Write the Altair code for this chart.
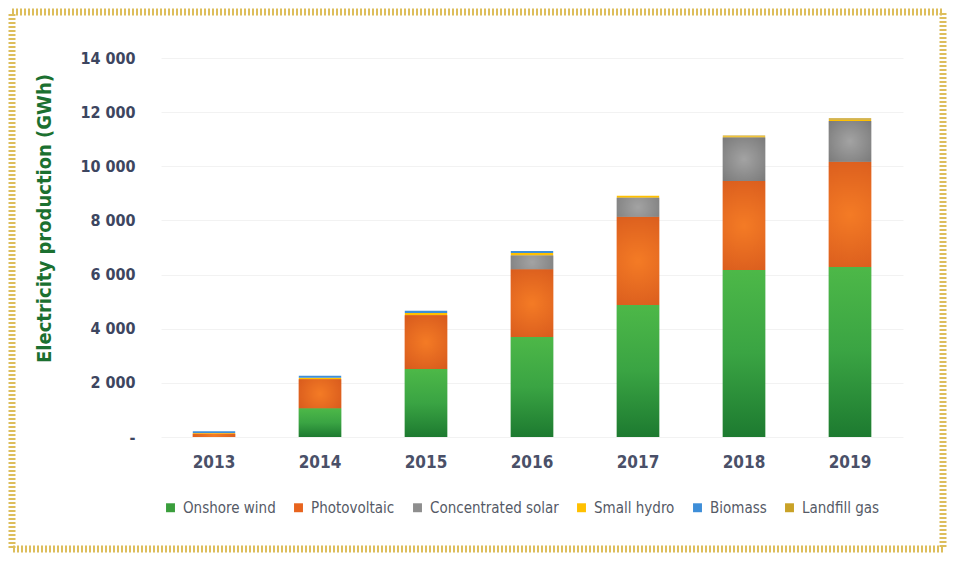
import altair as alt
import pandas as pd

years = ["2013", "2014", "2015", "2016", "2017", "2018", "2019"]
sources = ["Onshore wind", "Photovoltaic", "Concentrated solar", "Small hydro", "Biomass", "Landfill gas"]
onshore_wind = [0, 1060, 2510, 3690, 4880, 6170, 6280]
photovoltaic = [120, 1070, 1990, 2510, 3260, 3290, 3890]
concentrated_solar = [0, 0, 0, 505, 700, 1600, 1500]
small_hydro = [30, 60, 85, 95, 75, 45, 50]
biomass = [60, 70, 75, 75, 0, 0, 0]
landfill_gas = [0, 0, 0, 0, 0, 30, 50]
colors = ["#3A9E3C", "#E8641E", "#8E8E8E", "#FFC000", "#3E8ED8", "#C9A227"]

series = [onshore_wind, photovoltaic, concentrated_solar, small_hydro, biomass, landfill_gas]
rows = []
for i, y in enumerate(years):
    base = 0
    for s, vals in zip(sources, series):
        v = vals[i]
        rows.append({"year": y, "source": s, "order": sources.index(s), "value": v,
                     "start": base, "end": base + v})
        base += v
df = pd.DataFrame(rows)

FONT = "DejaVu Sans Condensed"

xenc = alt.X("year:N", sort=years, scale=alt.Scale(paddingInner=0.6, paddingOuter=0.3),
             axis=alt.Axis(title=None, labelAngle=0, labelFontSize=17, labelFontWeight="bold",
                           labelColor="#4A5068", labelFont=FONT, labelPadding=17,
                           ticks=False, domain=False, grid=False))
yscale = alt.Scale(domain=[0, 14000])
yenc = alt.Y("end:Q", scale=yscale,
             axis=alt.Axis(title="Electricity  production (GWh)", values=list(range(0, 14001, 2000)),
                           labelExpr="datum.value == 0 ? '-' : replace(format(datum.value, ','), ',', ' ')",
                           labelFontSize=16, labelFontWeight="bold", labelColor="#3D4660", labelFont=FONT,
                           labelPadding=26, ticks=False, domain=False, gridColor="#F2F2F2",
                           titleFont=FONT, titleFontSize=20, titleFontWeight="bold",
                           titleColor="#1B7030", titlePadding=25, titleY=160))

main = alt.Chart(df).mark_bar().encode(
    x=xenc,
    y=yenc,
    y2="start:Q",
    color=alt.Color("source:N", sort=sources,
                    scale=alt.Scale(domain=sources, range=colors),
                    legend=alt.Legend(title=None, orient="none", direction="horizontal",
                                      legendX=2, legendY=63 + 379, symbolType="square", symbolSize=80,
                                      symbolStrokeWidth=0, labelFont=FONT, labelFontSize=15,
                                      labelColor="#555A66", columnPadding=15, labelOffset=5)),
    order="order:Q",
)

wind_grad = alt.Chart(df).transform_filter(alt.datum.source == "Onshore wind").mark_bar(
    color=alt.LinearGradient(gradient="linear", x1=0, x2=0, y1=0, y2=1,
                             stops=[alt.GradientStop(color="#4DB848", offset=0),
                                    alt.GradientStop(color="#3AA443", offset=0.5),
                                    alt.GradientStop(color="#1D7A30", offset=1)])
).encode(x=alt.X("year:N", sort=years), y=alt.Y("end:Q"), y2="start:Q")

pv_grad = alt.Chart(df).transform_filter(alt.datum.source == "Photovoltaic").mark_bar(
    color=alt.RadialGradient(gradient="radial", x1=0.5, y1=0.5, x2=0.5, y2=0.5, r1=0, r2=0.7,
                             stops=[alt.GradientStop(color="#F47B25", offset=0),
                                    alt.GradientStop(color="#D4561C", offset=1)])
).encode(x=alt.X("year:N", sort=years), y=alt.Y("end:Q"), y2="start:Q")

csp_grad = alt.Chart(df).transform_filter(alt.datum.source == "Concentrated solar").mark_bar(
    color=alt.RadialGradient(gradient="radial", x1=0.5, y1=0.5, x2=0.5, y2=0.5, r1=0, r2=0.7,
                             stops=[alt.GradientStop(color="#A3A3A3", offset=0),
                                    alt.GradientStop(color="#7A7A7A", offset=1)])
).encode(x=alt.X("year:N", sort=years), y=alt.Y("end:Q"), y2="start:Q")

frame = alt.Chart(alt.Data(values=[{}])).mark_rect(
    fill=None, stroke="#DDBE5C", strokeWidth=7, strokeDash=[2, 2]
).encode(x=alt.value(-149), x2=alt.value(782), y=alt.value(-46), y2=alt.value(491))

chart = alt.layer(main, wind_grad, pv_grad, csp_grad, frame).properties(
    width=742, height=379, padding={"left": 153, "top": 50, "right": 44, "bottom": 116},
    autosize=alt.AutoSizeParams(type="none"),
    background="white",
).configure_view(stroke=None)

chart.save("out.html", embed_options={"renderer": "svg", "actions": False})
